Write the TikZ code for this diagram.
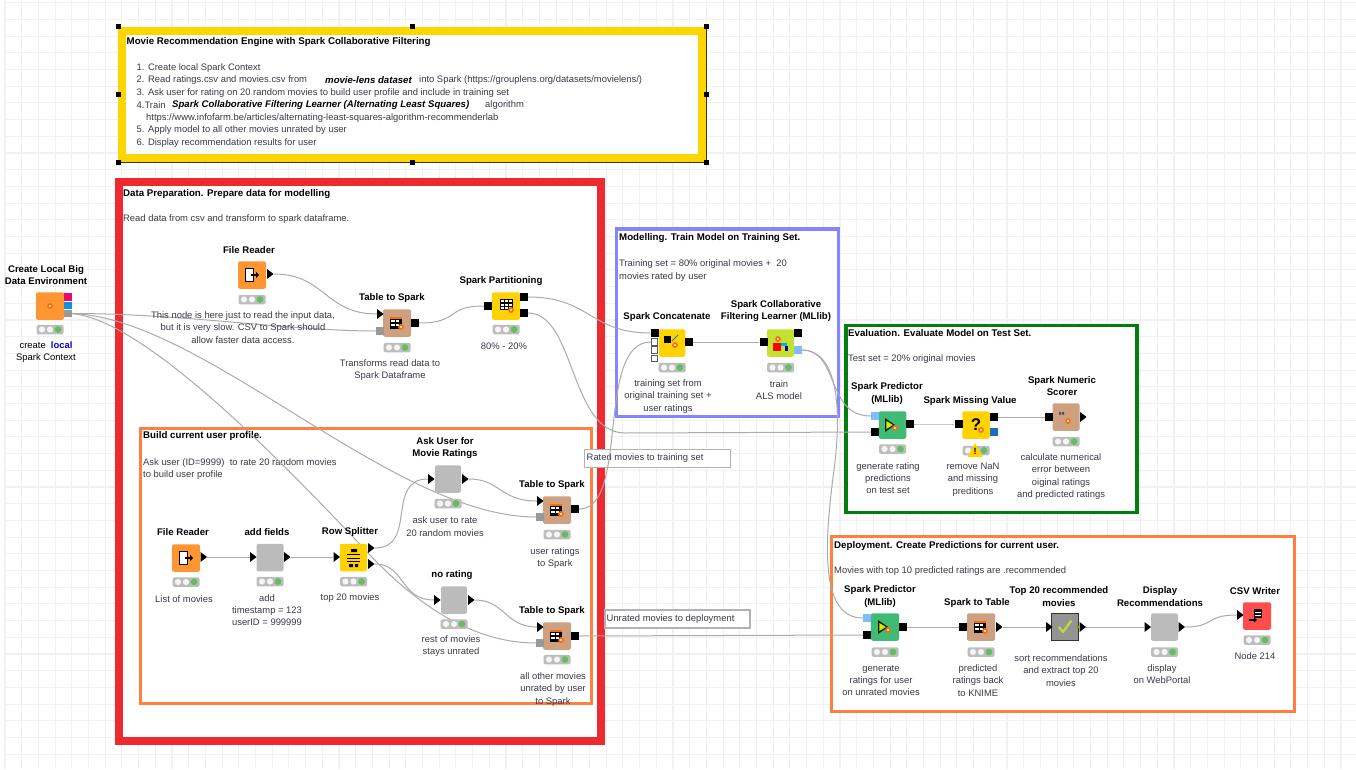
\documentclass[tikz,border=0pt]{standalone}
\usepackage{fontspec}
\setmainfont{Liberation Sans}
\usetikzlibrary{shapes.geometric,calc}
\definecolor{grid}{HTML}{F1F1F1}
\definecolor{fred}{HTML}{EE2A2E}
\definecolor{forange}{HTML}{FF7F40}
\definecolor{fblue}{HTML}{8585FF}
\definecolor{fgreen}{HTML}{007F0E}
\definecolor{fyellow}{HTML}{FFD500}
\definecolor{wirec}{HTML}{ABABAB}
\definecolor{cfile}{HTML}{FF9632}
\definecolor{cspark}{HTML}{CDA080}
\definecolor{cyel}{HTML}{FFD200}
\definecolor{cpred}{HTML}{3FBB75}
\definecolor{clime}{HTML}{C6E02E}
\definecolor{cmeta}{HTML}{BBBBBB}
\definecolor{ccsv}{HTML}{FF4D4D}
\definecolor{lblue}{HTML}{80BBFF}
\definecolor{dblue}{HTML}{1F6FB5}
\definecolor{tlgray}{HTML}{BDBDBD}
\definecolor{tlgreen}{HTML}{63BE5F}
\definecolor{notec}{HTML}{3A3A4A}
\tikzset{
  x=1bp,y=-1bp,
  frame/.style={draw=#1,fill=white,line width=3.5bp},
  body/.style={rectangle,rounded corners=2bp,minimum width=#1,minimum height=27.5bp,inner sep=0pt,draw=none},
  psq/.style={rectangle,fill=black,minimum width=8bp,minimum height=7.5bp,inner sep=0pt},
  pcol/.style={rectangle,fill=#1,minimum width=8bp,minimum height=7.5bp,inner sep=0pt},
  phol/.style={rectangle,draw=black!65,fill=white,line width=1bp,minimum size=6.5bp,inner sep=0pt},
  parr/.style={isosceles triangle,isosceles triangle apex angle=75,fill=black,inner sep=0pt,minimum height=6.5bp,minimum width=8bp},
  wire/.style={draw=wirec,line width=1bp},
  lab/.style={font=\fontsize{9.65}{12.4}\selectfont\bfseries,align=center,text=black,inner sep=0pt},
  note/.style={font=\fontsize{9.45}{12.4}\selectfont,align=center,text=notec,inner sep=0pt},
  head/.style={font=\fontsize{9.75}{12.4}\selectfont\bfseries,text=black,inner sep=0pt,anchor=west},
  txt/.style={font=\fontsize{9.45}{12.4}\selectfont,text=notec,inner sep=0pt,anchor=west},
  itxt/.style={font=\fontsize{9.65}{12.4}\selectfont\bfseries\itshape,text=black,inner sep=0pt,anchor=west},
  tlbox/.style={rectangle,rounded corners=1.5bp,fill=tlgray,minimum width=27bp,minimum height=9.5bp,inner sep=0pt},
  handle/.style={rectangle,fill=black,minimum size=5bp,inner sep=0pt},
  tbox/.style={rectangle,draw=black!30,fill=white,line width=1.8bp,inner sep=0pt},
}
% traffic light: name, x, y
\newcommand{\tl}[3]{%
  \node[tlbox] (#1) at (#2,#3) {};
  \fill[white!92!gray] ($(#1.center)+(-8,0)$) circle (3.1bp);
  \fill[white!92!gray] ($(#1.center)+(0,0)$) circle (3.1bp);
  \fill[tlgreen] ($(#1.center)+(8,0)$) circle (3.4bp);
}
% glyphs
\newcommand{\spkstar}[2]{\fill[orange!85!red] (#1,#2) circle (2.9bp); \fill[white] (#1,#2) circle (1.2bp);}
\newcommand{\gfile}[2]{%
  \fill[black] ($(#1,#2)+(-6,-7)$) rectangle ++(9,14);
  \fill[white] ($(#1,#2)+(-4.6,-5.7)$) rectangle ++(6.2,11.4);
  \fill[black] ($(#1,#2)+(0,-1)$) rectangle ++(5,2);
  \fill[black] ($(#1,#2)+(5,-3)$) -- ++(3.2,3) -- ++(-3.2,3) -- cycle;}
\newcommand{\gtable}[2]{%
  \fill[black] ($(#1,#2)+(-6,-6)$) rectangle ++(12,12);
  \fill[white] ($(#1,#2)+(-5,-3.4)$) rectangle ++(3.6,2.6);
  \fill[white] ($(#1,#2)+(-0.5,-3.4)$) rectangle ++(3.6,2.6);
  \fill[white] ($(#1,#2)+(-5,0.5)$) rectangle ++(3.6,2.6);
  \fill[white] ($(#1,#2)+(-0.5,0.5)$) rectangle ++(3.6,2.6);
  \fill[orange!85!red] ($(#1,#2)+(-6,-6)$) rectangle ++(12,1.5);
  \spkstar{\fpeval{#1+5}}{\fpeval{#2+4}}}
\newcommand{\gpart}[2]{%
  \fill[black] ($(#1,#2)+(-6.5,-6)$) rectangle ++(13,11);
  \foreach \u in {-5.5,-1.5,2.5} \foreach \v in {-5,-1.5,2}
    \fill[white] ($(#1,#2)+(\u,\v)$) rectangle ++(3,2.4);
  \spkstar{\fpeval{#1+5}}{\fpeval{#2+5}}}
\newcommand{\gpred}[2]{%
  \fill[black!85!green] ($(#1,#2)+(-6,-7)$) -- ++(0,14) -- ++(10,-7) -- cycle;
  \fill[yellow!85!green] ($(#1,#2)+(-4.6,-4)$) -- ++(0,8) -- ++(6.5,-4) -- cycle;
  \spkstar{\fpeval{#1+4}}{\fpeval{#2+3}}}
\begin{document}
\begin{tikzpicture}
\useasboundingbox (0,0) rectangle (1356,769);
\fill[white] (0,0) rectangle (1356,769);
% grid
\foreach \i in {0,...,80} \draw[grid,line width=1.1bp] ({5+16.7*\i},0) -- ({5+16.7*\i},769);
\foreach \i in {0,...,45} \draw[grid,line width=1.1bp] (4,{2.7+16.7*\i}) -- (1356,{2.7+16.7*\i});
% annotation frames
\draw[black!80,line width=.9bp] (118,27) rectangle (706,162);
\draw[draw=fyellow,fill=white,line width=8bp] (122,31) rectangle (702,157.5);
\draw[draw=fred,fill=white,line width=7.5bp] (119,182) rectangle (601,741);
\draw[frame=forange] (140.5,428.5) rectangle (591.5,703.5);
\draw[frame=fblue] (616.5,229) rectangle (838.5,416.5);
\draw[frame=fgreen] (846,325.5) rectangle (1137,512.5);
\draw[frame=forange] (831.5,536.5) rectangle (1294.5,711.5);
% handles
\node[handle] (h1) at (118,27) {};
\node[handle] (h2) at (412,27) {};
\node[handle] (h3) at (706,27) {};
\node[handle] (h4) at (118,94) {};
\node[handle] (h5) at (706,94) {};
\node[handle] (h6) at (118,162) {};
\node[handle] (h7) at (412,162) {};
\node[handle] (h8) at (706,162) {};
% header note
\node[head] (t0) at (126.5,42) {Movie Recommendation Engine with Spark Collaborative Filtering};
\node[txt] (t1) at (136.5,68) {1. Create local Spark Context};
\node[txt] (t2) at (136.5,80) {2. Read ratings.csv and movies.csv from};
\node[itxt] (t2b) at (325,80) {movie-lens dataset};
\node[txt] (t2c) at (419,80) {into Spark (https://grouplens.org/datasets/movielens/)};
\node[txt] (t3) at (136.5,93) {3. Ask user for rating on 20 random movies to build user profile and include in training set};
\node[txt] (t4) at (136.5,105) {4.Train};
\node[itxt] (t4b) at (172,105) {Spark Collaborative Filtering Learner (Alternating Least Squares)};
\node[txt] (t4c) at (485,105) {algorithm};
\node[txt] (t5) at (146,118) {https://www.infofarm.be/articles/alternating-least-squares-algorithm-recommenderlab};
\node[txt] (t6) at (136.5,130) {5. Apply model to all other movies unrated by user};
\node[txt] (t7) at (136.5,143) {6. Display recommendation results for user};
% frame titles
\node[head] (a1) at (123,194) {Data Preparation. Prepare data for modelling};
\node[txt] (a2) at (123,219) {Read data from csv and transform to spark dataframe.};
\node[head] (b1) at (143,436) {Build current user profile.};
\node[txt,align=left] (b2) at (143,469) {Ask user (ID=9999)\ \ to rate 20 random movies\\to build user profile};
\node[head] (c1) at (619,238) {Modelling. Train Model on Training Set.};
\node[txt,align=left] (c2) at (619,270.5) {Training set = 80\% original movies +\ \ 20\\movies rated by user};
\node[head] (d1) at (848,333) {Evaluation. Evaluate Model on Test Set.};
\node[txt] (d2) at (848,359) {Test set = 20\% original movies};
\node[head] (e1) at (834,546) {Deployment. Create Predictions for current user.};
\node[txt] (e2) at (834,571) {Movies with top 10 predicted ratings are .recommended};
% text boxes
\node[tbox,minimum width=146bp,minimum height=18bp] (rb) at (657.5,458.5) {};
\node[txt] (rbt) at (586.5,458) {Rated movies to training set};
\node[tbox,minimum width=145bp,minimum height=18bp] (ub) at (677.5,619) {};
\node[txt] (ubt) at (606.5,619) {Unrated movies to deployment};
% connectors from the context port (under the nodes)
\draw[wire] (67.5,313.5) coordinate (ccE) .. controls (180,313) and (290,331) .. (376,331) coordinate (ts1E);
\draw[wire] (ccE) .. controls (200,313) and (390,517) .. (536,517) coordinate (ts2E);
\draw[wire] (ccE) .. controls (140,313) and (290,470) .. (370,555) coordinate (k3) .. controls (425,613) and (480,643) .. (536,643) coordinate (ts3E);
% nodes : create context
\node[body=28bp,fill=cfile] (cc) at (50,306) {};
\node[pcol=magenta!70!red] (ccA) at (68,297) {};
\node[pcol=cyan!80!blue] (ccB) at (68,305.5) {};
\node[pcol=black!40] (ccC) at (68,313.5) {};
\spkstar{50}{306}
\tl{ccT}{50}{329.5}
\node[lab] (ccL) at (46,275) {Create Local Big\\Data Environment};
\node[lab,font=\fontsize{9.45}{12.4}\selectfont] (ccN) at (46,352) {create\ \ \textcolor{blue!85!black}{\textbf{local}}\\Spark Context};
% file reader 1
\node[body=28bp,fill=cfile] (fr) at (252,275) {};
\gfile{251}{275}
\node[parr] (frO) at (269.5,274) {};
\tl{frT}{252}{299.5}
\node[lab] (frL) at (249,250) {File Reader};
\node[note] (frN) at (243,327.5) {This node is here just to read the input data,\\but it is very slow. CSV to Spark should\\allow faster data access.};
% table to spark 1
\node[body=28bp,fill=cspark] (ts1) at (397,323) {};
\gtable{396}{323}
\node[parr] (ts1I) at (379.5,314) {};
\node[pcol=black!40] (ts1G) at (379.5,331) {};
\node[psq] (ts1O) at (415,323) {};
\tl{ts1T}{397}{347.5}
\node[lab] (ts1L) at (392,298) {Table to Spark};
\node[note] (ts1N) at (390,370) {Transforms read data to\\Spark Dataframe};
% partitioning
\node[body=28bp,fill=cyel] (sp) at (506,306) {};
\gpart{506}{305}
\node[psq] (spI) at (488,306) {};
\node[psq] (spA) at (524,297) {};
\node[psq] (spB) at (524,313) {};
\tl{spT}{506}{329.5}
\node[lab] (spL) at (501,281) {Spark Partitioning};
\node[note] (spN) at (504,346) {80\% - 20\%};
% file reader 2
\node[body=28bp,fill=cfile] (f2) at (186,558) {};
\gfile{185}{558}
\node[parr] (f2O) at (203,557) {};
\tl{f2T}{186}{582}
\node[lab] (f2L) at (183,532) {File Reader};
\node[note] (f2N) at (184,599) {List of movies};
% add fields
\node[body=27bp,fill=cmeta] (af) at (270,557.5) {};
\node[parr] (afI) at (252.5,557) {};
\node[parr] (afO) at (286.5,557) {};
\tl{afT}{270}{581.5}
\node[lab] (afL) at (267,532) {add fields};
\node[note] (afN) at (267,610) {add\\timestamp = 123\\userID = 999999};
% row splitter
\node[body=27bp,fill=cyel] (rs) at (353.5,557.5) {};
\draw[black,line width=1bp] (347,554) -- (360,554) (347,558) -- (360,558) (347,561.5) -- (360,561.5);
\fill[black] (351,549) rectangle ++(6,3) (349,564) rectangle ++(4,3) (355,564) rectangle ++(3,3);
\node[parr] (rsI) at (336,557) {};
\node[parr] (rsA) at (370.5,548) {};
\node[parr] (rsB) at (370.5,564) {};
\tl{rsT}{353.5}{581.5}
\node[lab] (rsL) at (350,532) {Row Splitter};
\node[note] (rsN) at (350,598) {top 20 movies};
% ask user
\node[body=26bp,fill=cmeta] (au) at (448,479) {};
\node[parr] (auI) at (430.5,479) {};
\node[parr] (auO) at (464.5,479) {};
\tl{auT}{448}{503.5}
\node[lab] (auL) at (445,448) {Ask User for\\Movie Ratings};
\node[note] (auN) at (445,526.5) {ask user to rate\\20 random movies};
% table to spark 2
\node[body=28bp,fill=cspark] (ts2) at (557,510) {};
\gtable{556}{510}
\node[parr] (ts2I) at (539.5,501) {};
\node[pcol=black!40] (ts2G) at (539.5,517) {};
\node[psq] (ts2O) at (575,509) {};
\tl{ts2T}{557}{534.5}
\node[lab] (ts2L) at (552,485) {Table to Spark};
\node[note] (ts2N) at (555,558) {user ratings\\to Spark};
% no rating
\node[body=26bp,fill=cmeta] (nr) at (454,600) {};
\node[parr] (nrI) at (436.5,600) {};
\node[parr] (nrO) at (470.5,600) {};
\tl{nrT}{454}{624}
\node[lab] (nrL) at (452,575) {no rating};
\node[note] (nrN) at (451,646) {rest of movies\\stays unrated};
% table to spark 3
\node[body=28bp,fill=cspark] (ts3) at (557,636) {};
\gtable{556}{636}
\node[parr] (ts3I) at (539.5,627) {};
\node[pcol=black!40] (ts3G) at (539.5,643) {};
\node[psq] (ts3O) at (575,636) {};
\tl{ts3T}{557}{659.5}
\node[lab] (ts3L) at (552,611) {Table to Spark};
\node[note] (ts3N) at (553,689.5) {all other movies\\unrated by user\\to Spark};
% concatenate
\node[body=26.5bp,fill=cyel] (co) at (672,343) {};
\fill[black] (664,336) rectangle ++(7,7);
\draw[cyan!60!blue,line width=1bp] (672,341) -- (678,335);
\spkstar{675}{345}
\node[psq] (coA) at (654.5,333) {};
\node[phol] (coB) at (654.5,342) {};
\node[phol] (coC) at (654.5,350) {};
\node[phol] (coD) at (654.5,358.5) {};
\node[psq] (coO) at (688.5,342) {};
\tl{coT}{672}{367.5}
\node[lab] (coL) at (667,317) {Spark Concatenate};
\node[note] (coN) at (668,396.5) {training set from\\original training set +\\user ratings};
% learner
\node[body=27bp,fill=clime] (le) at (780.5,343) {};
\fill[red] (773,343) rectangle ++(8,8);
\fill[cyan] (781,343) rectangle ++(6,3);
\fill[blue!70!black] (785,346) rectangle ++(2.5,5);
\spkstar{778}{339}
\node[psq] (leI) at (763.5,342) {};
\node[psq] (leA) at (797.5,333) {};
\node[pcol=lblue] (leB) at (797.5,350) {};
\tl{leT}{780.5}{367.5}
\node[lab] (leL) at (776,311) {Spark Collaborative\\Filtering Learner (MLlib)};
\node[note] (leN) at (779,390) {train\\ALS model};
% predictor 1
\node[body=27.5bp,fill=cpred] (p1) at (892.5,425) {};
\gpred{891}{425}
\node[pcol=lblue] (p1A) at (875,416) {};
\node[psq] (p1B) at (875,432) {};
\node[psq] (p1O) at (909.5,424) {};
\tl{p1T}{892.5}{449}
\node[lab] (p1L) at (887,393.5) {Spark Predictor\\(MLlib)};
\node[note] (p1N) at (888,478) {generate rating\\predictions\\on test set};
% missing value
\node[body=27.5bp,fill=cyel] (mv) at (976,425) {\fontsize{17}{17}\selectfont\bfseries ?};
\spkstar{981}{430}
\node[psq] (mvI) at (958.5,424) {};
\node[psq] (mvA) at (993.5,417) {};
\node[pcol=dblue] (mvB) at (993.5,432) {};
\tl{mvT}{976}{450.5}
\fill[cyel] (975,443) -- (982.5,457) -- (967.5,457) -- cycle;
\node[lab,font=\fontsize{9}{9}\selectfont\bfseries] (mvW) at (975,451.5) {!};
\node[lab] (mvL) at (970,401) {Spark Missing Value};
\node[note] (mvN) at (973,479.5) {remove NaN\\and missing\\preditions};
% scorer
\node[body=27bp,fill=cspark] (sc) at (1066,417) {};
\fill[black!70] (1059,412) rectangle ++(2,2.5) (1062,412) rectangle ++(2,2.5);
\spkstar{1068}{421}
\node[psq] (scI) at (1049,417) {};
\node[parr] (scO) at (1082.5,417) {};
\tl{scT}{1066}{441.5}
\node[lab] (scL) at (1062,386) {Spark Numeric\\Scorer};
\node[note] (scN) at (1061,476.5) {calculate numerical\\error between\\oiginal ratings\\and predicted ratings};
% predictor 2
\node[body=28bp,fill=cpred] (p2) at (885,627) {};
\gpred{884}{627}
\node[pcol=lblue] (p2A) at (867,618) {};
\node[psq] (p2B) at (867,635) {};
\node[psq] (p2O) at (902.5,627) {};
\tl{p2T}{885}{652}
\node[lab] (p2L) at (880,596.5) {Spark Predictor\\(MLlib)};
\node[note] (p2N) at (881,680.5) {generate\\ratings for user\\on unrated movies};
% spark to table
\node[body=28bp,fill=cspark] (st) at (981,627) {};
\gtable{980}{627}
\node[psq] (stI) at (963,627) {};
\node[parr] (stO) at (998.5,627) {};
\tl{stT}{981}{652}
\node[lab] (stL) at (977,603) {Spark to Table};
\node[note] (stN) at (978,680.5) {predicted\\ratings back\\to KNIME};
% top 20
\node[body=26.5bp,rounded corners=0pt,fill=black!42,draw=black!80,line width=1bp] (tp) at (1065,627) {};
\draw[clime,line width=2bp,line cap=round,line join=round] (1059,627) -- (1063,632) -- (1071,621);
\fill[clime!70!black] (1077.5,627) circle (1.8bp);
\node[parr] (tpI) at (1048.5,627) {};
\node[parr] (tpO) at (1082,627) {};
\node[lab] (tpL) at (1059,596.5) {Top 20 recommended\\movies};
\node[note] (tpN) at (1061,670.5) {sort recommendations\\and extract top 20\\movies};
% display
\node[body=27bp,fill=cmeta] (di) at (1164.5,627) {};
\node[parr] (diI) at (1147,627) {};
\node[parr] (diO) at (1181,627) {};
\tl{diT}{1164.5}{652}
\node[lab] (diL) at (1160,596.5) {Display\\Recommendations};
\node[note] (diN) at (1162,674) {display\\on WebPortal};
% csv
\node[body=28bp,fill=ccsv] (cs) at (1257,616) {};
\fill[black] (1254,609) rectangle ++(8,9);
\fill[white] (1255,612) rectangle ++(6,1) (1255,615) rectangle ++(6,1);
\fill[black] (1249,619) rectangle ++(5,2);
\fill[black] (1254,617.5) -- ++(3,2.5) -- ++(-3,2.5) -- cycle;
\node[parr] (csI) at (1239.5,615) {};
\tl{csT}{1257}{640}
\node[lab] (csL) at (1255,591) {CSV Writer};
\node[note] (csN) at (1255,656) {Node 214};
% connectors between ports
\draw[wire] (frO.east) .. controls (325,274) and (325,314) .. (ts1I.west);
\draw[wire] (ts1O.east) .. controls (460,323) and (445,306) .. (spI.west);
\draw[wire] (spA.east) .. controls (590,297) and (590,333) .. (coA.west);
\coordinate (pk) at (625,433);
\draw[wire] (spB.east) .. controls (575,313) and (570,433) .. (pk) -- (p1B.west);
\draw[wire] (f2O.east) -- (afI.west);
\draw[wire] (afO.east) -- (rsI.west);
\draw[wire] (rsA.east) .. controls (418,548) and (385,479) .. (auI.west);
\draw[wire] (rsB.east) .. controls (405,564) and (400,600) .. (nrI.west);
\draw[wire] (auO.east) .. controls (500,479) and (500,501) .. (ts2I.west);
\draw[wire] (nrO.east) .. controls (505,600) and (505,627) .. (ts3I.west);
\draw[wire] (ts2O.east) .. controls (630,509) and (595,342) .. (coB.west);
\draw[wire] (ts3O.east) -- (p2B.west);
\draw[wire] (coO.east) -- (leI.west);
\draw[wire] (leB.east) .. controls (840,350) and (825,416) .. (p1A.west);
\coordinate (lk) at (834,470);
\draw[wire] (leB.east) .. controls (835,350) and (843,400) .. (lk) .. controls (824,545) and (820,618) .. (p2A.west);
\draw[wire] (p1O.east) .. controls (930,424) and (935,424) .. (mvI.west);
\draw[wire] (mvA.east) -- (scI.west);
\draw[wire] (p2O.east) -- (stI.west);
\draw[wire] (stO.east) -- (tpI.west);
\draw[wire] (tpO.east) -- (diI.west);
\draw[wire] (diO.east) .. controls (1215,627) and (1205,615) .. (csI.west);
\end{tikzpicture}
\end{document}
